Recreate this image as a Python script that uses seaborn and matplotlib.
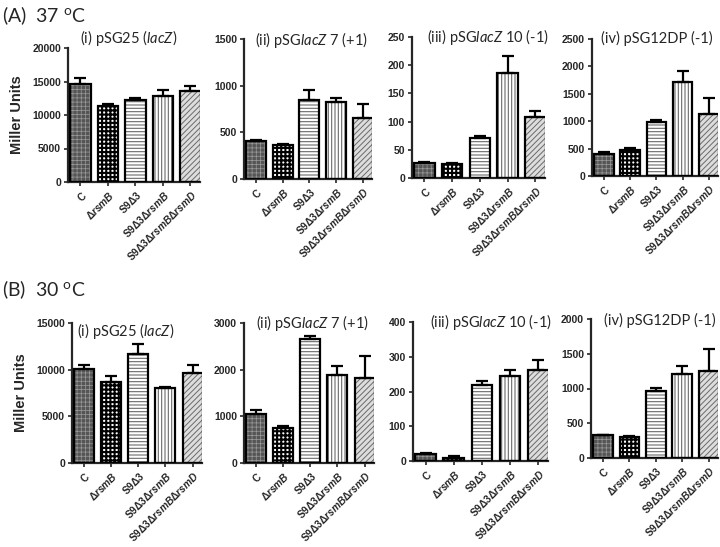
import numpy as np
import pandas as pd
import matplotlib
matplotlib.use("Agg")
import matplotlib.pyplot as plt
from matplotlib.patches import Rectangle
import seaborn as sns

sns.set_style("ticks")
plt.rcParams["font.family"] = ["Liberation Sans", "DejaVu Sans"]
plt.rcParams["mathtext.fontset"] = "custom"
plt.rcParams["mathtext.rm"] = "Lato"
plt.rcParams["mathtext.it"] = "Lato:italic"
plt.rcParams["mathtext.bf"] = "Liberation Sans:bold"
try:
    plt.rcParams["mathtext.bfit"] = "Liberation Sans:bold:italic"
    BFIT = r"\mathbfit"
except KeyError:
    BFIT = r"\mathbf"
plt.rcParams["hatch.linewidth"] = 0.7

strains = ["C", "ΔrsmB", "S9Δ3", "S9Δ3ΔrsmB", "S9Δ3ΔrsmBΔrsmD"]
strain_labels = [
    r"$\mathbf{C}$",
    r"$\mathbf{\Delta}" + BFIT + r"{rsmB}$",
    r"$\mathbf{S9\Delta3}$",
    r"$\mathbf{S9\Delta3\Delta}" + BFIT + r"{rsmB}$",
    r"$\mathbf{S9\Delta3\Delta}" + BFIT + r"{rsmB}\mathbf{\Delta}" + BFIT + r"{rsmD}$",
]

reporters = [
    r"(i) pSG25 ($\mathit{lacZ}$)",
    r"(ii) pSG$\mathit{lacZ\ 7}$ (+1)",
    r"(iii) pSG$\mathit{lacZ\ 10}$ (-1)",
    r"(iv) pSG12DP (-1)",
]

# 37 oC, Miller units (mean and upper error)
mean_37 = [
    [14600, 11300, 12200, 12800, 13600],
    [405, 360, 845, 830, 650],
    [27, 24, 71, 187, 109],
    [410, 480, 980, 1720, 1140],
]
err_37 = [
    [900, 400, 400, 900, 700],
    [10, 15, 110, 35, 150],
    [2, 2, 4, 29, 10],
    [20, 25, 35, 200, 290],
]
ymax_37 = [20000, 1500, 250, 2500]
ystep_37 = [5000, 500, 50, 500]

# 30 oC
mean_30 = [
    [10050, 8700, 11700, 8000, 9650],
    [1050, 740, 2650, 1880, 1830],
    [19, 10, 220, 244, 263],
    [325, 305, 960, 1210, 1255],
]
err_30 = [
    [500, 650, 1000, 150, 900],
    [80, 60, 70, 190, 470],
    [3, 3, 10, 18, 27],
    [10, 10, 45, 120, 310],
]
ymax_30 = [15000, 3000, 400, 2000]
ystep_30 = [5000, 1000, 100, 500]

# facecolor, hatch colour, hatch, hatch linewidth
bar_styles = [
    ("#555555", "#9a9a9a", "++++", 0.5),
    ("white", "black", "++++", 1.5),
    ("white", "#6a6a6a", "-----", 0.8),
    ("white", "#6a6a6a", "|||||", 0.8),
    ("#dddddd", "#6a6a6a", "//////", 0.7),
]

W, H = 720, 547
# axes boxes in pixels: left, top, right, bottom
boxes_37 = [(68, 48, 200, 182), (244, 39, 372, 179), (412, 37, 545, 178), (592, 39, 718, 176)]
boxes_30 = [(72, 323, 202, 463), (244, 323, 374, 463), (413, 322, 548, 461), (591, 319, 718, 458)]
title_pos_37 = [(80, 38), (255, 40), (427, 37), (601, 38)]
title_pos_30 = [(77, 331), (256, 323), (430, 322), (604, 320)]

fig = plt.figure(figsize=(7.2, 5.47), dpi=100)


def draw_panel(box, means, errs, ymax, ystep, title, tpos, ylabel):
    l, t, r, b = box
    ax = fig.add_axes([l / W, 1 - b / H, (r - l) / W, (b - t) / H])
    df = pd.DataFrame({"strain": strains, "value": means})
    sns.barplot(data=df, x="strain", y="value", order=strains, ax=ax,
                width=0.74, color="white", errorbar=None)
    for p, (fc, hc, h, hlw) in zip(list(ax.patches), bar_styles):
        p.set_facecolor(fc)
        p.set_edgecolor(hc)
        p.set_hatch(h)
        p.set_linewidth(0)
        if hasattr(p, "set_hatch_linewidth"):
            p.set_hatch_linewidth(hlw)
        ax.add_patch(Rectangle(p.get_xy(), p.get_width(), p.get_height(),
                               fill=False, ec="black", lw=1.6, zorder=3))
    ax.errorbar(np.arange(len(strains)), means, yerr=[np.zeros(len(errs)), errs],
                fmt="none", ecolor="black", elinewidth=1.6, capsize=4,
                capthick=1.6, zorder=2)
    ax.set_xlim(-0.45, 4.35)
    ax.set_ylim(0, ymax)
    ax.set_yticks(np.arange(0, ymax + 1, ystep))
    ax.set_xticks(range(len(strains)))
    ax.set_xticklabels(strain_labels, rotation=45, ha="right",
                       rotation_mode="anchor", fontsize=7.3)
    for lab in ax.get_yticklabels():
        lab.set_fontweight("bold")
        lab.set_fontsize(7.5)
    ax.tick_params(axis="both", direction="out", length=3, width=1.2, pad=2)
    ax.set_xlabel("")
    if ylabel:
        ax.set_ylabel("Miller Units", fontsize=10.5, fontweight="bold", labelpad=6)
    else:
        ax.set_ylabel("")
    sns.despine(ax=ax)
    for s in ["left", "bottom"]:
        ax.spines[s].set_linewidth(1.6)
    fig.text(tpos[0] / W, 1 - tpos[1] / H, title, fontsize=10.5,
             family="Lato", va="center", ha="left")
    return ax


for i in range(4):
    draw_panel(boxes_37[i], mean_37[i], err_37[i], ymax_37[i], ystep_37[i],
               reporters[i], title_pos_37[i], i == 0)
    draw_panel(boxes_30[i], mean_30[i], err_30[i], ymax_30[i], ystep_30[i],
               reporters[i], title_pos_30[i], i == 0)

fig.text(2 / W, 1 - 16 / H, r"(A)  37 $^{\mathrm{o}}$C", fontsize=14,
         family="Lato", va="center", ha="left")
fig.text(2 / W, 1 - 290 / H, r"(B)  30 $^{\mathrm{o}}$C", fontsize=14,
         family="Lato", va="center", ha="left")

fig.savefig("out.png", dpi=100)
